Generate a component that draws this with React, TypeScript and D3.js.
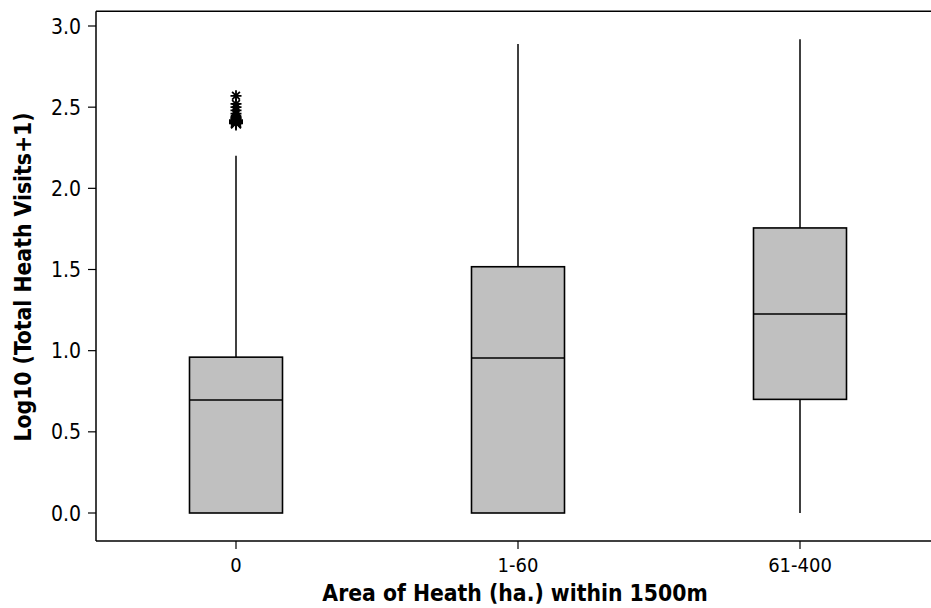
import React from "react";
import * as d3 from "d3";

const categories = ["0", "1-60", "61-400"];
const q1 = [0, 0, 0.7];
const medians = [0.696, 0.955, 1.226];
const q3 = [0.96, 1.517, 1.756];
const whiskerLow = [0, 0, 0];
const whiskerHigh = [2.2, 2.889, 2.918];
const outliers0 = [2.4, 2.405, 2.41, 2.42, 2.43, 2.44, 2.46, 2.48, 2.5, 2.52, 2.57];
const yTicks = [0, 0.5, 1.0, 1.5, 2.0, 2.5, 3.0];

const W = 931;
const H = 608;
const FONT = "'DejaVu Sans Condensed', 'DejaVu Sans', sans-serif";

export default function App() {
  const x = d3.scalePoint<string>().domain(categories).range([95, 941]).padding(0.5);
  const y = d3.scaleLinear().domain([0, 3]).range([513, 26]);
  const left = 96;
  const top = 11.3;
  const bottom = 541;
  const boxW = 93;

  const star = (cx: number, cy: number, r: number) => {
    const p = d3.path();
    for (let i = 0; i < 4; i++) {
      const a = (Math.PI / 4) * i;
      p.moveTo(cx + r * Math.cos(a), cy + r * Math.sin(a));
      p.lineTo(cx - r * Math.cos(a), cy - r * Math.sin(a));
    }
    return p.toString();
  };

  return (
    <svg width={W} height={H} style={{ position: "absolute", left: 0, top: 0, background: "#fff" }}>
      {/* frame */}
      <line x1={left} x2={W} y1={top} y2={top} stroke="#000" strokeWidth={1.5} />
      <line x1={left} x2={W} y1={bottom} y2={bottom} stroke="#000" strokeWidth={1.5} />
      <line x1={left} x2={left} y1={top} y2={bottom} stroke="#000" strokeWidth={1.5} />

      {/* y axis ticks */}
      {yTicks.map((t) => (
        <g key={t}>
          <line x1={left - 8} x2={left} y1={y(t)} y2={y(t)} stroke="#000" strokeWidth={1.2} />
          <text x={left - 15} y={y(t)} dy="0.36em" textAnchor="end" fontFamily={FONT} fontSize={21} fill="#000">
            {d3.format(".1f")(t)}
          </text>
        </g>
      ))}

      {/* x axis ticks */}
      {categories.map((c) => (
        <g key={c}>
          <line x1={x(c)!} x2={x(c)!} y1={bottom} y2={bottom + 8} stroke="#000" strokeWidth={1.2} />
          <text x={x(c)!} y={572} textAnchor="middle" fontFamily={FONT} fontSize={20} fill="#000">
            {c}
          </text>
        </g>
      ))}

      {/* boxes */}
      {categories.map((c, i) => {
        const cx = x(c)!;
        return (
          <g key={"b" + c}>
            <line x1={cx} x2={cx} y1={y(q3[i])} y2={y(whiskerHigh[i])} stroke="#000" strokeWidth={1.5} />
            <line x1={cx} x2={cx} y1={y(q1[i])} y2={y(whiskerLow[i])} stroke="#000" strokeWidth={1.5} />
            <rect
              x={cx - boxW / 2}
              y={y(q3[i])}
              width={boxW}
              height={y(q1[i]) - y(q3[i])}
              fill="#c0c0c0"
              stroke="#000"
              strokeWidth={1.6}
            />
            <line x1={cx - boxW / 2} x2={cx + boxW / 2} y1={y(medians[i])} y2={y(medians[i])} stroke="#000" strokeWidth={1.6} />
          </g>
        );
      })}

      {/* outliers */}
      {outliers0.map((v, j) => (
        <path key={"o" + j} d={star(x(categories[0])!, y(v), v < 2.43 ? 7 : 5.5)} stroke="#000" strokeWidth={1.8} fill="none" />
      ))}

      {/* axis titles */}
      <text x={515} y={601} textAnchor="middle" fontFamily={FONT} fontSize={22.7} fontWeight="bold" fill="#000">
        Area of Heath (ha.) within 1500m
      </text>
      <text
        transform={`translate(31, 277) rotate(-90)`}
        textAnchor="middle"
        fontFamily={FONT}
        fontSize={22.7}
        fontWeight="bold"
        fill="#000"
      >
        Log10 (Total Heath Visits+1)
      </text>
    </svg>
  );
}
